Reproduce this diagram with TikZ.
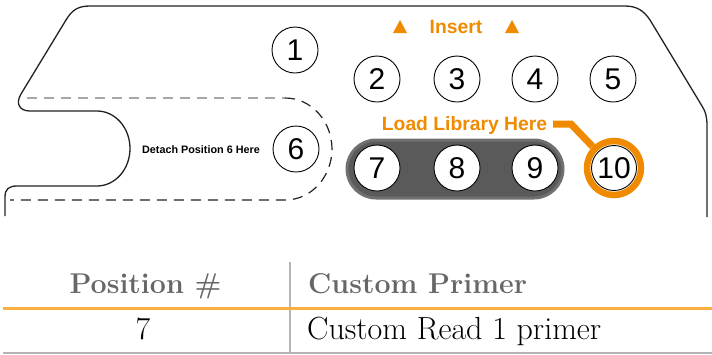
\documentclass[tikz,border=0pt]{standalone}
\usepackage{fontspec}
\newfontfamily\lab{Liberation Sans}
\definecolor{ink}{HTML}{222222}
\definecolor{accent}{HTML}{F08A00}
\definecolor{rule}{HTML}{F9B040}
\definecolor{pill}{HTML}{5A5A5A}
\definecolor{pilledge}{HTML}{707070}
\definecolor{head}{HTML}{676767}
\definecolor{sep}{HTML}{B4B4B4}
\tikzset{
  slot/.style={circle, draw=black, line width=0.9pt, fill=white,
    minimum size=46pt, inner sep=0pt, font=\lab\fontsize{30}{30}\selectfont},
  cut/.style={line width=1.2pt, dash pattern=on 10pt off 7pt},
  outline/.style={draw=ink, line width=1.3pt},
  tag/.style={text=accent, font=\lab\bfseries\fontsize{19.3}{22}\selectfont, anchor=base, inner sep=0pt},
  headtxt/.style={text=head, font=\bfseries\fontsize{28.6}{34}\selectfont, anchor=base, inner sep=0pt},
  celltxt/.style={text=black, font=\fontsize{32}{38}\selectfont, anchor=base, inner sep=0pt}
}
\begin{document}
\begin{tikzpicture}[x=1pt, y=-1pt]
\useasboundingbox (0,0) rectangle (712,354);

% reagent cartridge outline
\draw[outline] (5,216) -- (5,197)
  .. controls (5,189) and (9,186) .. (17,186) -- (97,186)
  .. controls (115.2,186) and (130,169.2) .. (130,148.5)
  .. controls (130,127.8) and (115.2,111) .. (97,111) -- (30,111)
  .. controls (20,111) and (15,104) .. (21,94) -- (66,20)
  .. controls (72,10) and (78,6) .. (90,6) -- (625,6)
  .. controls (637,6) and (644,11) .. (650,20) -- (702,106)
  .. controls (706,112) and (707,118) .. (707,126) -- (707,217);

% detachable section for position 6
\draw[cut, draw=gray!70] (27,98) -- (285,98);
\draw[cut, draw=ink] (285,98)
  .. controls (312,98) and (332,122) .. (332,149)
  .. controls (332,176) and (312,200) .. (285,200) -- (10,200);
\node[font=\lab\bfseries\fontsize{10.8}{12}\selectfont, anchor=base, inner sep=0pt] (detach) at (201,153) {Detach Position 6 Here};

% insert direction
\fill[accent] (393,33) -- (407,33) -- (400,20) -- cycle;
\fill[accent] (505,33) -- (519,33) -- (512,20) -- cycle;
\node[tag] (insert) at (456,33) {Insert};

% shaded group of positions 7-9
\draw[fill=pill, draw=pilledge, line width=3pt, rounded corners=29pt] (347,140) rectangle (563,198);

% reservoir positions
\node[slot] (p1) at (295,50) {1};
\node[slot] (p2) at (377,79) {2};
\node[slot] (p3) at (457,79) {3};
\node[slot] (p4) at (535,79) {4};
\node[slot] (p5) at (613,79) {5};
\node[slot] (p6) at (296,149) {6};
\node[slot] (p7) at (377,168) {7};
\node[slot] (p8) at (457,168) {8};
\node[slot] (p9) at (535,168) {9};

% library position with highlight ring
\node[circle, draw=accent, line width=6.5pt, minimum size=54pt, inner sep=0pt] (ring) at (614,168) {};
\node[slot, minimum size=45pt] (p10) at (614,168) {10};
\node[tag] (load) at (464.5,130) {Load Library Here};
\coordinate (leadstart) at (553,124);
\coordinate (bend) at (571,124);
\draw[accent, line width=7pt] (leadstart) -- (bend) -- (ring.135);

% table
\coordinate (ruleL) at (3,308);
\coordinate (ruleR) at (712,308);
\coordinate (baseL) at (3,353);
\coordinate (baseR) at (712,353);
\coordinate (sepT) at (290,262);
\coordinate (sepB) at (290,354);
\draw[sep, line width=2pt] (baseL) -- (baseR);
\draw[sep, line width=2pt] (sepT) -- (sepB);
\draw[rule, line width=3pt] (ruleL) -- (ruleR);
\node[headtxt] (hpos) at (145.5,293) {Position \#};
\node[headtxt, anchor=base west] (hprim) at (308,293) {Custom Primer};
\node[celltxt] (cpos) at (143,339) {7};
\node[celltxt, anchor=base west] (cprim) at (307,339) {Custom Read 1 primer};
\end{tikzpicture}
\end{document}
